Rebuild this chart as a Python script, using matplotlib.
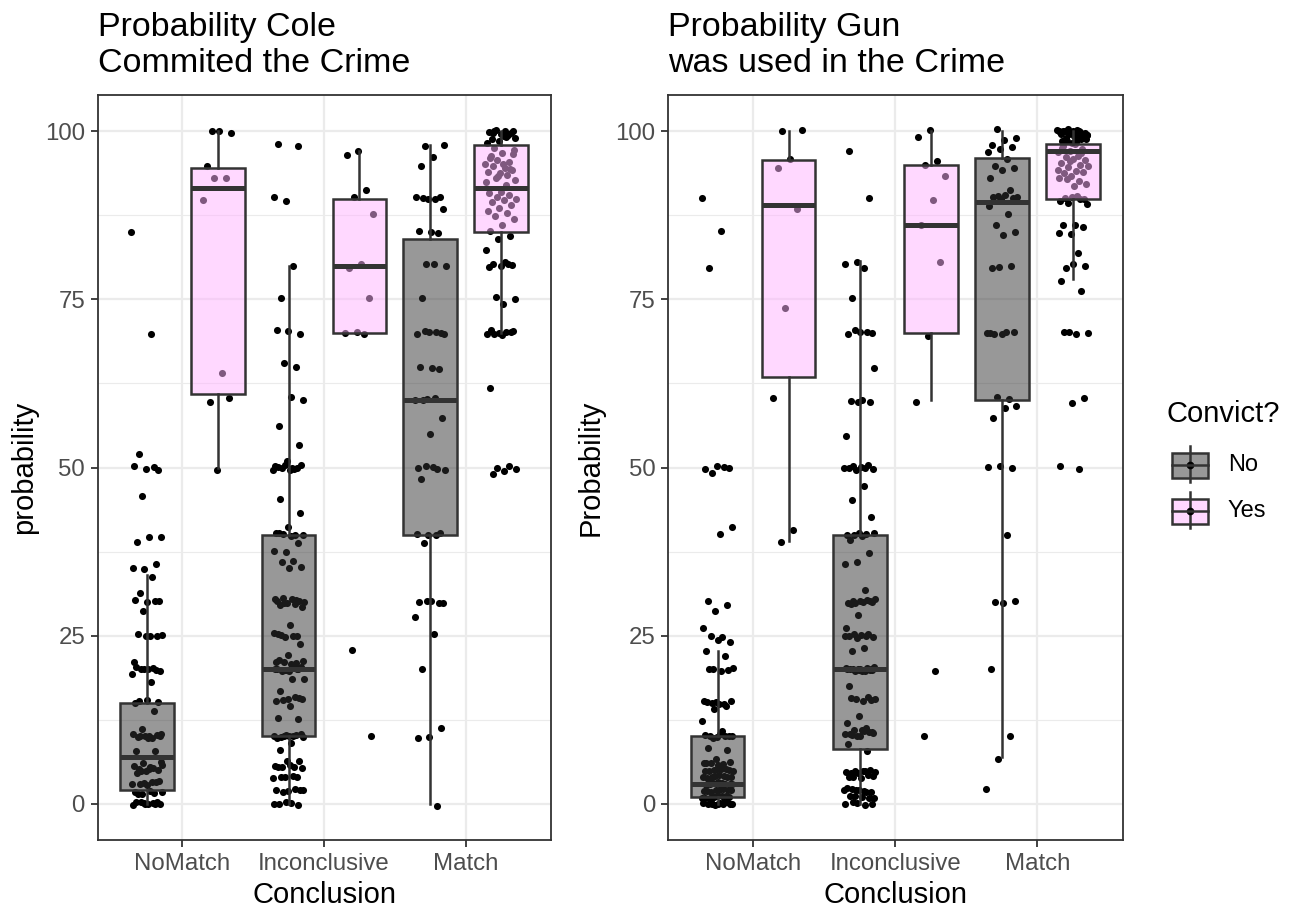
import numpy as np
import matplotlib
matplotlib.use("Agg")
import matplotlib.pyplot as plt
from matplotlib.patches import Rectangle
from matplotlib.lines import Line2D

plt.rcParams['font.family'] = ['Liberation Sans', 'DejaVu Sans']

conclusions = ['NoMatch', 'Inconclusive', 'Match']
convict = ['No', 'Yes']
titles = ['Probability Cole\nCommited the Crime', 'Probability Gun\nwas used in the Crime']
ylabels = ['probability', 'Probability']

# ---- raw points (probability, 0-100) ----
cole_nomatch_no = [85, 69.8, 52, 49.6, 49.8, 50.2, 50.1, 45.8, 39.7, 39.6, 38.9, 35.6, 34.9, 35.1,
                   33.7, 31.3, 30.2, 30.0, 30.3, 30.1, 28.7, 25.1, 25.0, 25.2, 24.9, 25.0, 21.0, 20.2,
                   20.0, 19.8, 20.1, 20.3, 19.9, 20.0, 19.3, 18.1, 15.3, 15.1, 15.4, 15.0, 13.8, 11.1,
                   10.3, 10.1, 9.9, 10.2, 10.0, 10.4, 9.8, 10.1, 10.0, 9.7, 7.9, 7.8, 6.0, 5.8, 5.5,
                   5.2, 5.0, 4.8, 5.6, 5.3, 4.9, 6.2, 5.1, 4.6, 3.3, 3.1, 2.9, 3.2, 3.0, 3.4, 2.8, 1.8,
                   1.6, 1.5, 1.7, 1.9, 1.4, 0.2, 0.0, -0.2, 0.1, 0.3, 0.0, -0.1, 0.2, 0.0, 0.1]
cole_nomatch_yes = [100, 99.8, 100.1, 94.9, 93.0, 93.1, 89.8, 64.1, 59.8, 60.4, 49.6]
cole_incon_no = [98.1, 97.8, 89.7, 90.3, 80.0, 75.2, 69.8, 70.3, 70.5, 65.0, 65.5, 60.0, 60.5, 56.2,
                 53.3, 51.0, 50.2, 49.8, 50.0, 50.3, 49.6, 50.1, 49.9, 50.4, 49.7, 50.0, 45.3, 43.2,
                 41.2, 40.2, 39.9, 40.1, 40.0, 39.8, 40.3, 38.8, 37.5, 37.6, 36.1, 36.0, 35.2, 35.1,
                 30.1, 30.3, 29.8, 30.0, 30.5, 29.5, 30.2, 29.9, 30.4, 29.7, 30.6, 29.3, 26.6, 25.2,
                 25.0, 24.8, 25.4, 24.9, 25.1, 23.7, 22.1, 21.1, 20.9, 21.0, 21.2, 20.8, 21.3, 20.1,
                 19.9, 20.0, 20.2, 19.8, 20.3, 19.7, 20.0, 20.1, 19.9, 18.6, 18.5, 16.8, 15.7, 15.5,
                 15.3, 15.8, 15.4, 15.6, 14.6, 12.7, 12.6, 10.2, 10.0, 10.1, 9.9, 10.3, 10.0, 9.8,
                 10.2, 10.1, 9.9, 9.0, 8.0, 6.4, 6.3, 5.6, 5.4, 5.5, 5.3, 5.7, 5.5, 4.0, 3.9, 3.8,
                 4.1, 3.9, 2.1, 1.9, 2.0, 2.2, 1.8, 2.0, 0.1, 0.0, -0.2, 0.2, -0.1]
cole_incon_yes = [97.0, 96.5, 91.3, 90.2, 87.7, 80.3, 79.6, 75.2, 70.2, 70.0, 69.9, 22.9, 10.0]
cole_match_no = [97.8, 97.9, 96.2, 94.9, 90.2, 90.0, 90.3, 89.9, 90.1, 88.5, 85.0, 85.2, 84.9, 80.3,
                 80.0, 80.2, 75.2, 70.0, 70.2, 69.9, 70.1, 70.3, 69.8, 64.8, 64.9, 64.7, 60.2, 60.0,
                 60.3, 60.1, 57.3, 55.0, 50.0, 49.8, 50.2, 49.7, 50.1, 48.3, 40.2, 40.0, 40.1, 39.9,
                 38.7, 29.9, 30.1, 30.0, 29.8, 30.2, 27.7, 25.2, 20.1, 11.2, 9.9, 9.7, -0.4]
cole_match_yes = [100.1, 99.8, 100.0, 99.6, 99.9, 99.4, 100.2, 99.0, 99.3, 98.8, 99.7, 98.5, 98.2,
                  99.1, 100.0, 97.2, 96.8, 96.0, 95.5, 95.8, 95.1, 94.6, 94.9, 94.2, 93.8, 94.0,
                  93.5, 93.1, 92.8, 95.2, 96.3, 94.4, 93.3, 92.5, 92.0, 97.5, 96.6, 91.0, 90.8,
                  90.5, 90.2, 90.0, 89.8, 89.5, 89.0, 88.6, 88.2, 87.8, 87.4, 87.0, 86.0, 85.2,
                  84.5, 84.0, 82.3, 80.5, 80.3, 80.1, 80.0, 79.8, 80.2, 75.4, 75.0, 74.3, 70.4,
                  70.2, 70.0, 69.9, 70.1, 69.8, 70.3, 69.7, 61.8, 50.2, 50.0, 49.8, 49.5, 49.0]

gun_nomatch_no = [90.1, 85.2, 79.7, 50.0, 50.2, 49.8, 50.1, 49.2, 41.2, 40.1, 30.2, 29.6, 28.6, 26.1,
                  24.8, 25.0, 24.1, 24.4, 22.7, 21.9, 20.0, 20.2, 19.8, 20.1, 19.9, 15.1, 15.3, 14.9,
                  15.0, 15.2, 14.8, 15.1, 14.6, 14.1, 12.3, 10.8, 10.1, 10.0, 9.9, 10.2, 10.0, 9.8,
                  10.1, 10.3, 8.3, 8.0, 6.6, 6.1, 5.9, 6.0, 6.2, 5.8, 6.0, 5.1, 5.0, 4.9, 5.2, 4.8,
                  5.0, 5.1, 4.9, 4.1, 4.0, 3.9, 4.2, 3.8, 4.0, 4.1, 3.9, 3.1, 3.0, 2.9, 3.2, 2.8, 3.0,
                  3.1, 2.9, 3.0, 3.2, 2.1, 2.0, 1.9, 2.2, 1.8, 2.0, 2.1, 1.9, 1.1, 1.0, 0.9, 1.2, 0.8,
                  1.0, 1.1, 0.9, 0.2, 0.0, -0.1, 0.1, 0.0, 0.3, -0.2, 0.1, 0.0, 0.2, -0.1, 0.0]
gun_nomatch_yes = [100.0, 100.2, 95.9, 94.6, 88.5, 73.7, 60.3, 40.7, 38.9]
gun_incon_no = [97.0, 90.1, 80.6, 80.3, 79.7, 75.2, 70.0, 70.1, 69.9, 70.2, 70.5, 64.8, 60.1, 59.9,
                59.7, 59.8, 54.7, 50.0, 50.2, 49.8, 50.1, 49.9, 50.3, 49.7, 50.0, 47.3, 45.2, 42.7,
                40.2, 40.0, 40.1, 39.9, 40.3, 39.8, 39.2, 37.3, 36.0, 35.7, 31.8, 30.2, 30.0, 30.1,
                29.9, 30.3, 29.8, 30.4, 30.0, 29.7, 30.1, 28.1, 26.1, 25.0, 25.2, 24.8, 25.1, 24.9,
                25.3, 24.7, 25.0, 23.2, 22.7, 20.1, 19.9, 20.0, 20.2, 19.8, 20.3, 19.7, 20.1, 19.9,
                20.0, 20.2, 19.8, 20.1, 19.9, 20.0, 17.5, 15.9, 15.5, 15.6, 15.3, 15.7, 15.4, 13.1,
                12.0, 11.2, 10.9, 10.5, 11.0, 10.3, 10.7, 10.1, 10.4, 10.8, 10.2, 10.6, 10.0, 8.9,
                7.9, 4.9, 4.7, 4.8, 4.6, 5.0, 4.5, 4.7, 4.9, 3.9, 4.1, 3.8, 4.0, 4.2, 2.1, 2.0, 1.9,
                2.2, 1.8, 2.0, 2.3, 1.7, 1.1, 0.9, 1.0, 1.2, 0.8, 0.1, 0.0, -0.2, 0.2, -0.1]
gun_incon_yes = [100.2, 99.1, 95.6, 95.0, 93.3, 89.8, 86.0, 80.6, 69.6, 59.8, 19.8, 10.0]
gun_match_no = [100.3, 99.0, 98.7, 98.0, 97.6, 97.3, 96.9, 95.9, 94.9, 94.5, 94.2, 93.1, 91.3, 90.4,
                90.2, 90.5, 90.3, 90.1, 90.0, 88.9, 87.7, 86.0, 85.0, 84.6, 79.7, 80.0, 79.8, 70.0,
                70.1, 69.9, 70.2, 69.8, 70.0, 60.2, 60.5, 59.2, 58.9, 57.3, 50.0, 50.2, 50.1, 40.0,
                30.0, 30.1, 29.9, 20.0, 10.0, 6.6, 2.2]
gun_match_yes = [100.2, 100.0, 99.8, 100.1, 99.6, 99.9, 100.3, 99.5, 99.7, 100.0, 99.4, 99.8, 100.1,
                 99.2, 99.0, 98.8, 99.3, 98.6, 98.9, 99.6, 100.2, 98.4, 98.7, 99.1, 98.2, 99.9,
                 100.0, 98.5, 99.4, 98.1, 97.8, 97.3, 97.1, 96.9, 96.4, 96.2, 95.8, 95.9, 95.3,
                 95.0, 94.7, 94.9, 94.1, 93.8, 93.9, 93.4, 93.0, 92.6, 92.9, 92.2, 91.8, 97.5,
                 96.7, 95.6, 94.3, 90.4, 90.1, 89.9, 90.2, 89.7, 90.0, 89.4, 89.2, 86.0, 86.1,
                 85.8, 84.7, 84.9, 81.9, 79.7, 79.9, 80.3, 77.8, 76.3, 70.2, 70.0, 69.8, 70.1,
                 60.3, 59.6, 50.2, 49.8]

cole_points = [[cole_nomatch_no, cole_nomatch_yes], [cole_incon_no, cole_incon_yes],
               [cole_match_no, cole_match_yes]]
gun_points = [[gun_nomatch_no, gun_nomatch_yes], [gun_incon_no, gun_incon_yes],
              [gun_match_no, gun_match_yes]]

# box statistics: (lower whisker, Q1, median, Q3, upper whisker)
cole_boxes = [[(0, 2, 7, 15, 34), (50, 61, 91.5, 94.5, 100)],
              [(0, 10, 20, 40, 80), (70, 70, 80, 90, 97)],
              [(0, 40, 60, 84, 98), (70, 85, 91.5, 98, 100)]]
gun_boxes = [[(0, 1, 3, 10, 22.7), (39, 63.5, 89, 95.8, 100)],
             [(0, 8.1, 20, 40, 80.7), (60, 70, 86, 95, 100)],
             [(7, 60, 89.5, 96, 100), (78, 90, 97, 98.1, 100)]]

fills = {'No': '#333333', 'Yes': '#FFB3FF'}
edge = '#333333'
dodge = 0.25
box_w = 0.377
jit = 0.11

W, H = 1297, 909
fig = plt.figure(figsize=(W / 100, H / 100), dpi=100)
panels = [(97.5, 453.0), (668.0, 454.5)]
ylab_x = [38, 605]


def draw_panel(ax, points, boxes, title, ylabel, left, width, lab_x):
    for i, conc in enumerate(conclusions):
        for j, cv in enumerate(convict):
            pos = i + 1 + (j * 2 - 1) * dodge
            vals = np.array(points[i][j])
            n = len(vals)
            # horizontal jitter (spread only, values untouched)
            offs = ((np.arange(n) * 0.618034 + 0.3 * j + 0.17 * i) % 1.0 - 0.5) * 2 * jit
            ax.scatter(pos + offs, vals, s=26, color='black', linewidths=0, zorder=1.5)
            lo, q1, med, q3, hi = boxes[i][j]
            stats = [dict(whislo=lo, q1=q1, med=med, q3=q3, whishi=hi)]
            ax.bxp(stats, positions=[pos], widths=box_w, patch_artist=True,
                   showfliers=False, showcaps=False, zorder=2,
                   boxprops=dict(facecolor=fills[cv], edgecolor=edge, linewidth=1.8),
                   medianprops=dict(color=edge, linewidth=3.6, solid_capstyle='butt'),
                   whiskerprops=dict(color=edge, linewidth=1.8))
    for p in ax.patches:
        fc = p.get_facecolor()
        p.set_facecolor((fc[0], fc[1], fc[2], 0.5))
    ax.set_xlim(0.4, 3.6)
    ax.set_ylim(-5.4, 105.4)
    ax.set_xticks([1, 2, 3])
    ax.set_xticklabels(conclusions)
    ax.set_yticks([0, 25, 50, 75, 100])
    ax.set_yticks([12.5, 37.5, 62.5, 87.5], minor=True)
    ax.grid(True, which='major', color='#EBEBEB', linewidth=1.6)
    ax.grid(True, which='minor', axis='y', color='#EBEBEB', linewidth=0.8)
    ax.set_axisbelow(True)
    ax.tick_params(axis='both', which='major', labelsize=17.3, colors='#4D4D4D',
                   length=5, width=1.3)
    ax.tick_params(axis='x', which='major', pad=4)
    ax.tick_params(axis='y', which='major', pad=4)
    ax.tick_params(axis='both', which='major', color='#333333')
    ax.tick_params(axis='both', which='minor', length=0)
    for s in ax.spines.values():
        s.set_color('#333333')
        s.set_linewidth(1.3)
    ax.set_xlabel('Conclusion', fontsize=21)
    ax.set_ylabel(ylabel, fontsize=21)
    ax.xaxis.set_label_coords(0.5, -(881 - 840) / 745)
    ax.yaxis.set_label_coords((lab_x - left) / width, 0.5)
    ax.set_title(title, loc='left', fontsize=24.5, pad=16.8, linespacing=1.2)


for k, (left, width) in enumerate(panels):
    ax = fig.add_axes([left / W, 69 / H, width / W, 745 / H])
    pts = cole_points if k == 0 else gun_points
    bxs = cole_boxes if k == 0 else gun_boxes
    draw_panel(ax, pts, bxs, titles[k], ylabels[k], left, width, ylab_x[k])

# legend drawn in pixel space
lg = fig.add_axes([0, 0, 1, 1])
lg.set_xlim(0, W)
lg.set_ylim(H, 0)
lg.axis('off')
lg.text(1167, 414, 'Convict?', fontsize=21, va='center', ha='left')
for k, (cv, yc) in enumerate(zip(convict, [465, 511])):
    lg.add_line(Line2D([1190, 1190], [yc - 19, yc + 17], color=edge, linewidth=1.8))
    lg.plot([1190], [yc], 'o', color='black', markersize=4.5)
    lg.add_patch(Rectangle((1172, yc - 12.5), 35.5, 25, facecolor=fills[cv], alpha=0.5,
                           edgecolor='none'))
    lg.add_patch(Rectangle((1172, yc - 12.5), 35.5, 25, facecolor='none',
                           edgecolor=edge, linewidth=1.8))
    lg.add_line(Line2D([1172, 1207.5], [yc, yc], color=edge, linewidth=1.8))
    lg.text(1228, yc, cv, fontsize=17, va='center', ha='left')

fig.savefig('out.png', dpi=100)
